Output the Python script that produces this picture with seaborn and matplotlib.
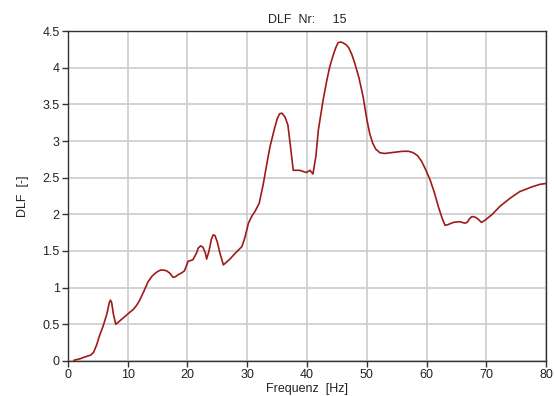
import matplotlib
matplotlib.use("Agg")
import matplotlib.pyplot as plt
import seaborn as sns
import pandas as pd

# frequency (Hz) and DLF values
freq = [1.0, 2.0, 3.0, 3.8, 4.3, 4.8, 5.3, 5.9, 6.5, 6.9, 7.1, 7.3, 7.6, 8.0,
        9.0, 10.0, 11.0, 11.5, 12.0, 12.7, 13.4, 14.0, 14.5, 15.0, 15.5,
        16.0, 16.5, 17.0, 17.6, 18.0, 18.5, 19.0, 19.5, 20.1, 20.9, 21.5,
        21.8, 22.2, 22.6, 23.0, 23.2, 23.6, 24.0, 24.3, 24.6, 25.0, 25.4,
        26.0, 27.1, 28.0, 29.1, 29.6, 30.2, 30.8, 31.3, 32.0, 32.7, 33.3,
        33.8, 34.5, 35.0, 35.4, 35.8, 36.3, 36.8, 37.2, 37.7, 38.8, 39.9,
        40.5, 41.0, 41.5, 41.9, 42.7, 43.3, 43.8, 44.3, 44.8, 45.2, 45.6,
        46.0, 46.6, 47.0, 47.5, 48.0, 48.7, 49.4, 50.0, 50.5, 51.0, 51.5,
        52.2, 53.0, 54.0, 55.0, 56.1, 57.0, 57.8, 58.5, 59.2, 59.8, 60.6,
        61.3, 62.0, 62.6, 63.1, 63.6, 64.5, 65.5, 66.4, 66.8, 67.2, 67.6,
        68.2, 68.7, 69.2, 69.8, 71.0, 72.3, 74.0, 75.6, 77.5, 79.0, 80.0]
dlf = [0.01, 0.03, 0.06, 0.08, 0.12, 0.22, 0.35, 0.48, 0.64, 0.79, 0.83,
       0.80, 0.64, 0.50, 0.57, 0.64, 0.71, 0.76, 0.83, 0.95, 1.08, 1.15,
       1.19, 1.22, 1.24, 1.24, 1.23, 1.20, 1.14, 1.15, 1.18, 1.20, 1.23,
       1.36, 1.38, 1.47, 1.54, 1.57, 1.55, 1.47, 1.39, 1.50, 1.66, 1.72,
       1.71, 1.62, 1.48, 1.31, 1.39, 1.47, 1.56, 1.68, 1.88, 1.98, 2.04,
       2.15, 2.42, 2.70, 2.92, 3.15, 3.30, 3.37, 3.38, 3.33, 3.22, 2.95,
       2.60, 2.60, 2.57, 2.60, 2.55, 2.80, 3.15, 3.56, 3.82, 4.01, 4.15,
       4.27, 4.34, 4.35, 4.34, 4.31, 4.27, 4.18, 4.06, 3.86, 3.60, 3.30,
       3.10, 2.97, 2.89, 2.84, 2.83, 2.84, 2.85, 2.86, 2.86, 2.84, 2.80,
       2.72, 2.62, 2.47, 2.30, 2.10, 1.95, 1.85, 1.86, 1.89, 1.90, 1.88,
       1.89, 1.94, 1.97, 1.96, 1.93, 1.89, 1.92, 2.00, 2.11, 2.22, 2.31,
       2.37, 2.41, 2.42]

x_ticks = [0, 10, 20, 30, 40, 50, 60, 70, 80]
y_ticks = [0, 0.5, 1, 1.5, 2, 2.5, 3, 3.5, 4, 4.5]
y_tick_labels = ["0", "0.5", "1", "1.5", "2", "2.5", "3", "3.5", "4", "4.5"]

df = pd.DataFrame({"Frequenz": freq, "DLF": dlf})

sns.set_style("white")
plt.rcParams["font.family"] = ["Liberation Sans", "DejaVu Sans"]

fig = plt.figure(figsize=(5.54, 3.96), dpi=100)
ax = fig.add_axes([0.1227, 0.0884, 0.8629, 0.8333])

sns.lineplot(data=df, x="Frequenz", y="DLF", color="#a01a1a", linewidth=1.2, ax=ax)

ax.set_xlim(0, 80)
ax.set_ylim(0, 4.5)
ax.set_xticks(x_ticks)
ax.set_yticks(y_ticks)
ax.set_yticklabels(y_tick_labels)
ax.grid(True, color="#cccccc", linewidth=1.2)
ax.set_axisbelow(True)
for s in ax.spines.values():
    s.set_color("#333333")
    s.set_linewidth(1.0)
ax.tick_params(axis="both", bottom=True, left=True, direction="out", length=4,
               width=1, colors="#333333", labelsize=9, labelcolor="#222222", pad=2)

ax.set_xlabel("Frequenz  [Hz]", fontsize=9, color="#222222", labelpad=1)
ax.set_ylabel("DLF  [-]", fontsize=9, color="#222222", labelpad=10)
ax.set_title("DLF  Nr:     15", fontsize=9, color="#222222", pad=6)

fig.savefig("out.png", dpi=100)
